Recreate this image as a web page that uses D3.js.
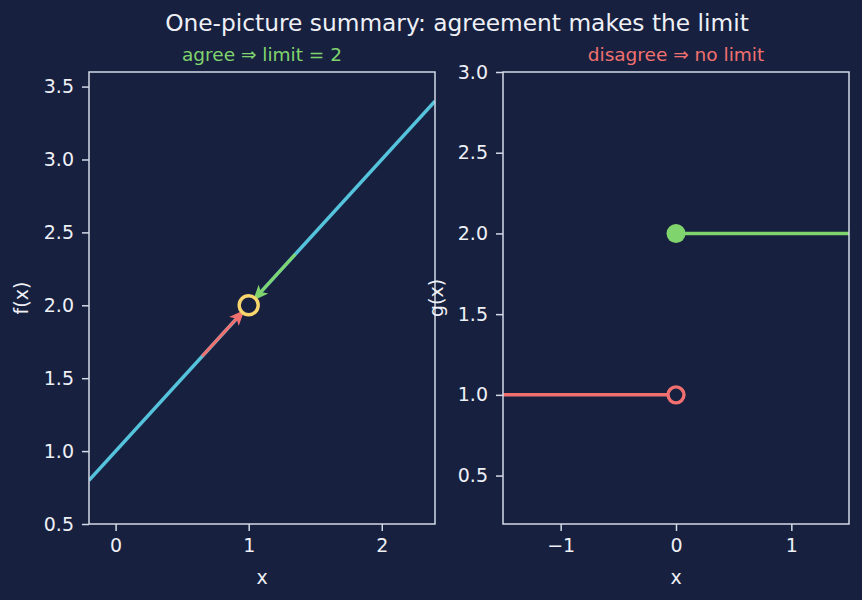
<!DOCTYPE html>
<html>
<head>
<meta charset="utf-8">
<script src="https://cdn.jsdelivr.net/npm/d3@7"></script>
<style>
  body { margin: 0; background: #17203f; }
  svg text { font-family: "DejaVu Sans", sans-serif; fill: #eef0f6; }
</style>
</head>
<body>
<div id="chart"></div>
<script>
// data
var fLineX = [-0.2, 2.4];
var fLineY = [0.8, 3.4];
var redArrowX = [0.65, 0.96];
var redArrowY = [1.65, 1.96];
var greenArrowX = [1.35, 1.04];
var greenArrowY = [2.35, 2.04];
var limitPoint = [1, 2];

var gLeftX = [-1.5, 0];
var gLeftY = [1, 1];
var gRightX = [0, 1.5];
var gRightY = [2, 2];

var leftXTicks = [0, 1, 2];
var leftYTicks = [0.5, 1.0, 1.5, 2.0, 2.5, 3.0, 3.5];
var rightXTicks = [-1, 0, 1];
var rightYTicks = [0.5, 1.0, 1.5, 2.0, 2.5, 3.0];

// colours
var bg = "#17203f";
var spine = "#d3d9e6";
var cyan = "#56c3dc";
var red = "#f07070";
var green = "#80d46e";
var yellow = "#f8d66d";

var svgWidth = 862, svgHeight = 600;
var svg = d3.select("#chart").append("svg")
    .attr("width", svgWidth)
    .attr("height", svgHeight);

svg.append("rect").attr("width", svgWidth).attr("height", svgHeight).attr("fill", bg);

// Title
svg.append("text")
    .attr("x", 457).attr("y", 31)
    .attr("text-anchor", "middle")
    .style("font-size", "23.3px")
    .text("One-picture summary: agreement makes the limit");

// arrow marker
var defs = svg.append("defs");
function addMarker(id, color) {
    defs.append("marker")
        .attr("id", id)
        .attr("viewBox", "0 0 10 10")
        .attr("refX", 9).attr("refY", 5)
        .attr("markerWidth", 5.2).attr("markerHeight", 5.2)
        .attr("markerUnits", "strokeWidth")
        .attr("orient", "auto")
        .append("path")
        .attr("d", "M0,0.8 L10,5 L0,9.2 L2.5,5 Z")
        .attr("fill", color);
}
addMarker("arrRed", red);
addMarker("arrGreen", green);

var fs = "19px";

function drawAxes(g, x, y, xTicks, yTicks, xLab, yLab, yLabX) {
    var x0 = x.range()[0], x1 = x.range()[1];
    var y0 = y.range()[0], y1 = y.range()[1];

    var xAxis = g.append("g")
        .attr("transform", `translate(0, ${y0})`)
        .call(d3.axisBottom(x).tickValues(xTicks).tickSize(7).tickPadding(8)
            .tickFormat(d => d < 0 ? "\u2212" + Math.abs(d) : d));
    var yAxis = g.append("g")
        .attr("transform", `translate(${x0}, 0)`)
        .call(d3.axisLeft(y).tickValues(yTicks).tickSize(7).tickPadding(8)
            .tickFormat(d3.format(".1f")));
    [xAxis, yAxis].forEach(function(a) {
        a.select(".domain").remove();
        a.selectAll("line").attr("stroke", spine).attr("stroke-width", 1.5);
        a.selectAll("text").style("font-size", fs).attr("fill", "#eef0f6");
    });

    // frame
    g.append("rect")
        .attr("x", x0).attr("y", y1)
        .attr("width", x1 - x0).attr("height", y0 - y1)
        .attr("fill", "none")
        .attr("stroke", spine)
        .attr("stroke-width", 1.5);

    g.append("text")
        .attr("x", (x0 + x1) / 2).attr("y", 584)
        .attr("text-anchor", "middle")
        .style("font-size", fs)
        .text(xLab);
    g.append("text")
        .attr("transform", `translate(${yLabX}, ${(y0 + y1) / 2}) rotate(-90)`)
        .attr("text-anchor", "middle")
        .style("font-size", fs)
        .text(yLab);
}

var line = d3.line();

// ---- left panel
var xL = d3.scaleLinear().domain([-0.2, 2.4]).range([89, 435]);
var yL = d3.scaleLinear().domain([0.5, 3.6]).range([524, 72]);
var left = svg.append("g");

defs.append("clipPath").attr("id", "clipL").append("rect")
    .attr("x", 89).attr("y", 72).attr("width", 346).attr("height", 452);

left.append("path")
    .attr("clip-path", "url(#clipL)")
    .attr("d", line(fLineX.map((d, i) => [xL(d), yL(fLineY[i])])))
    .attr("stroke", cyan).attr("stroke-width", 3.5).attr("fill", "none");

left.append("path")
    .attr("d", line(redArrowX.map((d, i) => [xL(d), yL(redArrowY[i])])))
    .attr("stroke", red).attr("stroke-width", 3).attr("fill", "none")
    .attr("marker-end", "url(#arrRed)");
left.append("path")
    .attr("d", line(greenArrowX.map((d, i) => [xL(d), yL(greenArrowY[i])])))
    .attr("stroke", green).attr("stroke-width", 3).attr("fill", "none")
    .attr("marker-end", "url(#arrGreen)");

left.append("circle")
    .attr("cx", xL(limitPoint[0])).attr("cy", yL(limitPoint[1]))
    .attr("r", 9.5)
    .attr("fill", bg).attr("stroke", yellow).attr("stroke-width", 3.4);

drawAxes(left, xL, yL, leftXTicks, leftYTicks, "x", "f(x)", 28);

left.append("text")
    .attr("x", 262).attr("y", 61)
    .attr("text-anchor", "middle")
    .style("font-size", "18.5px")
    .style("fill", green)
    .text("agree \u21d2 limit = 2");

// ---- right panel
var xR = d3.scaleLinear().domain([-1.5, 1.5]).range([503, 849]);
var yR = d3.scaleLinear().domain([0.2, 3.0]).range([524, 72]);
var right = svg.append("g");

right.append("path")
    .attr("d", line(gLeftX.map((d, i) => [xR(d), yR(gLeftY[i])])))
    .attr("stroke", red).attr("stroke-width", 3.5).attr("fill", "none");
right.append("path")
    .attr("d", line(gRightX.map((d, i) => [xR(d), yR(gRightY[i])])))
    .attr("stroke", green).attr("stroke-width", 3.5).attr("fill", "none");

right.append("circle")
    .attr("cx", xR(gLeftX[1])).attr("cy", yR(gLeftY[1]))
    .attr("r", 8)
    .attr("fill", bg).attr("stroke", red).attr("stroke-width", 3.4);
right.append("circle")
    .attr("cx", xR(gRightX[0])).attr("cy", yR(gRightY[0]))
    .attr("r", 9.5)
    .attr("fill", green);

drawAxes(right, xR, yR, rightXTicks, rightYTicks, "x", "g(x)", 443);

right.append("text")
    .attr("x", 676).attr("y", 61)
    .attr("text-anchor", "middle")
    .style("font-size", "18.5px")
    .style("fill", red)
    .text("disagree \u21d2 no limit");
</script>
</body>
</html>
